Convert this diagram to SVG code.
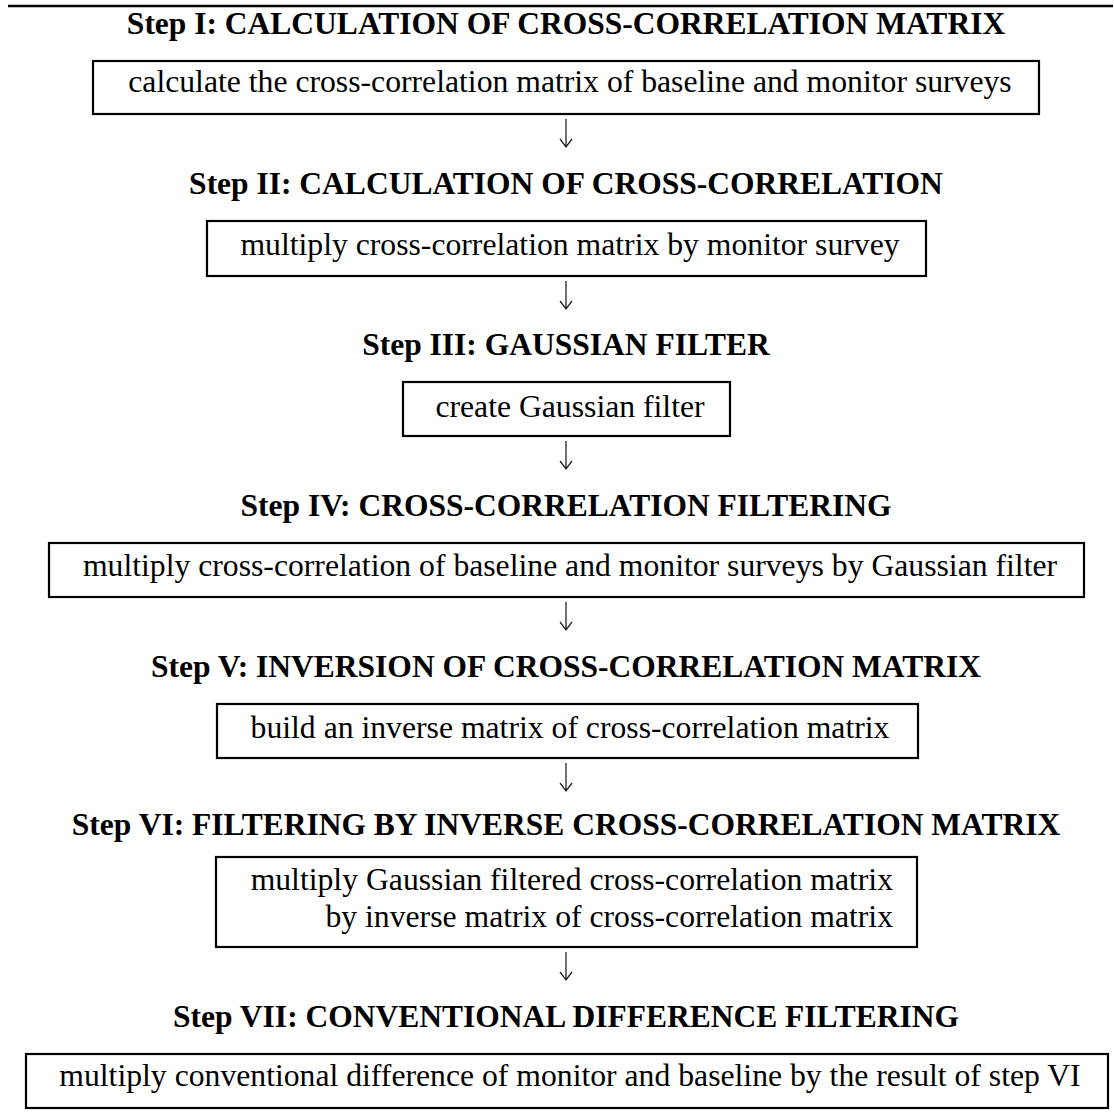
<svg xmlns="http://www.w3.org/2000/svg" width="1114" height="1120" viewBox="0 0 1114 1120">
<defs>
<style>
.h{font-family:"Liberation Serif","Times New Roman",serif;font-weight:bold;font-size:31.5px;fill:#000;text-anchor:middle}
.t{font-family:"Liberation Serif","Times New Roman",serif;font-size:31.7px;fill:#000;text-anchor:middle}
.b{fill:#fff;stroke:#000;stroke-width:2.2}
.a{fill:none;stroke:#222;stroke-width:1.3}
</style>
</defs>
<rect width="1114" height="1120" fill="#fff"/>
<line x1="8" y1="6" x2="1113" y2="6" stroke="#000" stroke-width="2.4"/>
<g id="step1">
<text class="h" x="566" y="34">Step I: CALCULATION OF CROSS-CORRELATION MATRIX</text>
<rect class="b" x="93" y="61" width="946" height="53"/>
<text class="t" x="570" y="92">calculate the cross-correlation matrix of baseline and monitor surveys</text>
</g>
<g id="step2">
<text class="h" x="566" y="194">Step II: CALCULATION OF CROSS-CORRELATION</text>
<rect class="b" x="207" y="221" width="719" height="55"/>
<text class="t" x="570" y="255">multiply cross-correlation matrix by monitor survey</text>
</g>
<g id="step3">
<text class="h" x="566" y="355">Step III: GAUSSIAN FILTER</text>
<rect class="b" x="403" y="382" width="327" height="54"/>
<text class="t" x="570" y="417">create Gaussian filter</text>
</g>
<g id="step4">
<text class="h" x="566" y="516">Step IV: CROSS-CORRELATION FILTERING</text>
<rect class="b" x="49" y="543" width="1035" height="54"/>
<text class="t" x="570" y="576">multiply cross-correlation of baseline and monitor surveys by Gaussian filter</text>
</g>
<g id="step5">
<text class="h" x="566" y="677">Step V: INVERSION OF CROSS-CORRELATION MATRIX</text>
<rect class="b" x="217" y="704" width="701" height="54"/>
<text class="t" x="570" y="738">build an inverse matrix of cross-correlation matrix</text>
</g>
<g id="step6">
<text class="h" x="566" y="835">Step VI: FILTERING BY INVERSE CROSS-CORRELATION MATRIX</text>
<rect class="b" x="216" y="857" width="701" height="90"/>
<text class="t" x="893" y="890" text-anchor="end" style="text-anchor:end">multiply Gaussian filtered cross-correlation matrix</text>
<text class="t" x="893" y="927" style="text-anchor:end">by inverse matrix of cross-correlation matrix</text>
</g>
<g id="step7">
<text class="h" x="566" y="1027">Step VII: CONVENTIONAL DIFFERENCE FILTERING</text>
<rect class="b" x="26" y="1054" width="1082" height="54"/>
<text class="t" x="570" y="1086">multiply conventional difference of monitor and baseline by the result of step VI</text>
</g>
<g id="connectors">
<path class="a" d="M566 119V147M560 139L566 147L572 139"/>
<path class="a" d="M566 281V309M560 301L566 309L572 301"/>
<path class="a" d="M566 441V469M560 461L566 469L572 461"/>
<path class="a" d="M566 602V630M560 622L566 630L572 622"/>
<path class="a" d="M566 763V791M560 783L566 791L572 783"/>
<path class="a" d="M566 952V980M560 972L566 980L572 972"/>
</g>
</svg>
